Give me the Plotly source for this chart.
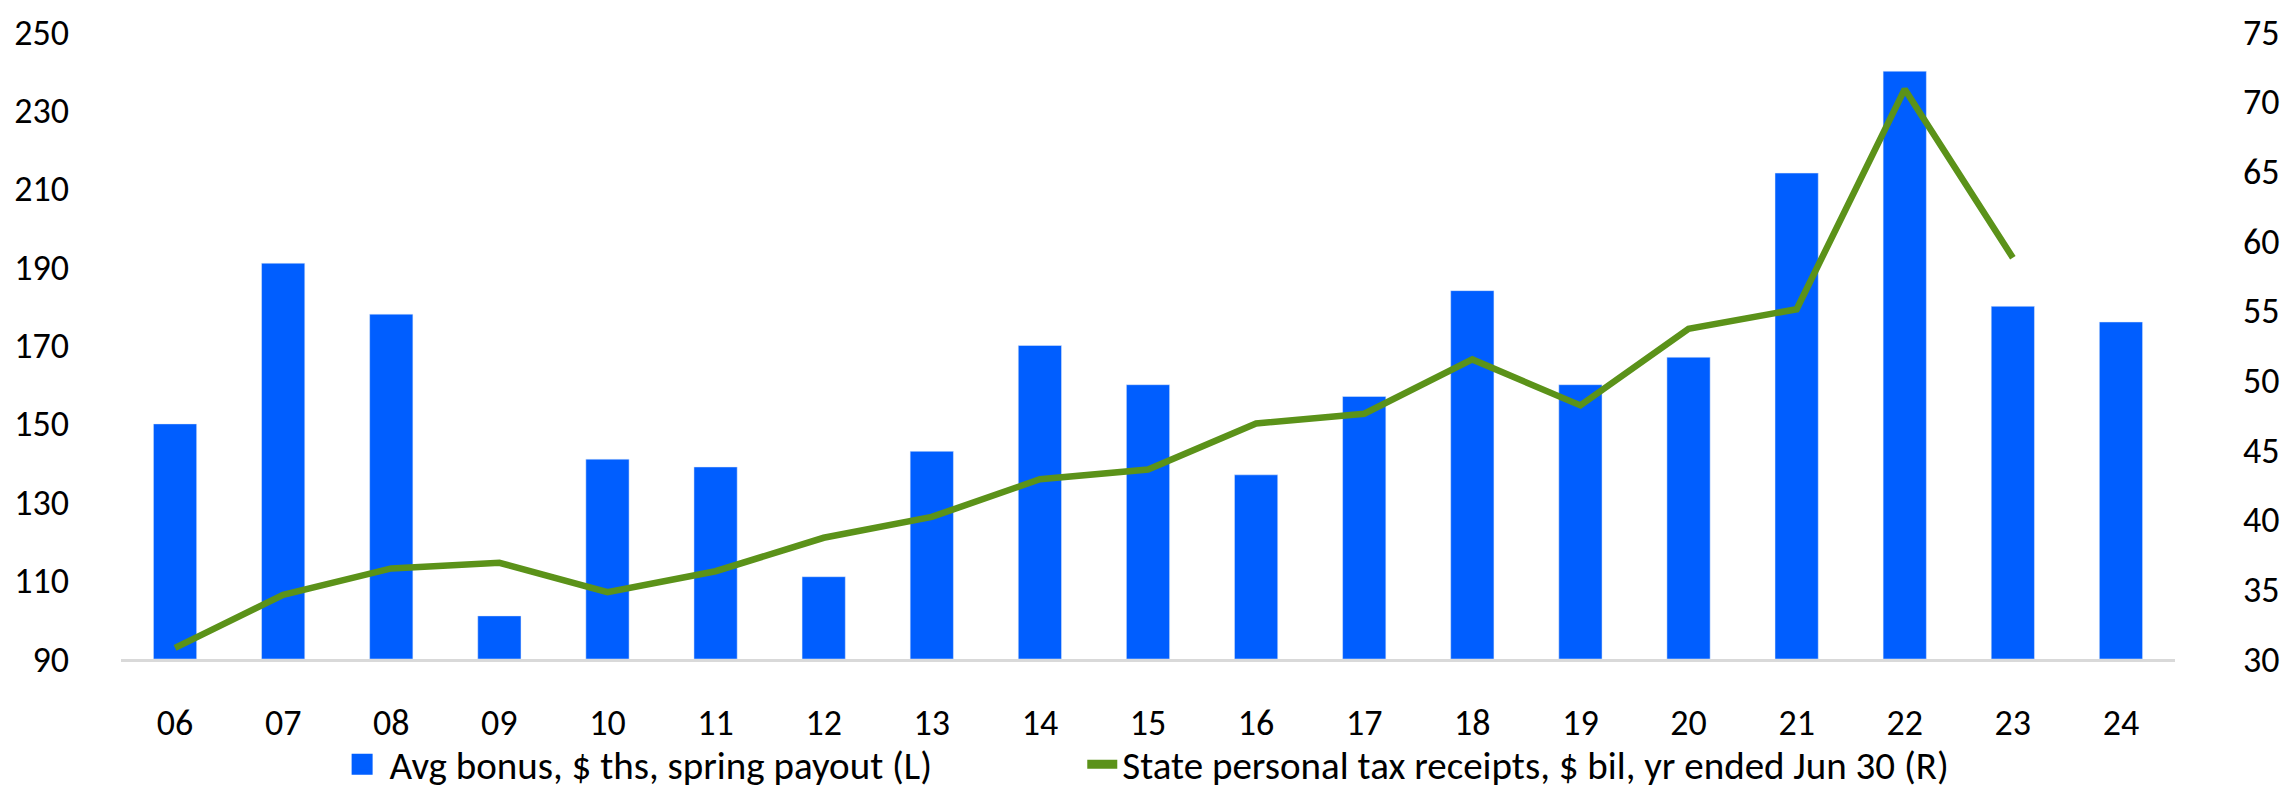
"""Avg bonus vs state personal tax receipts"""
import plotly.graph_objects as go

years = ['06', '07', '08', '09', '10', '11', '12', '13', '14', '15',
         '16', '17', '18', '19', '20', '21', '22', '23', '24']

# Avg bonus, $ ths (left axis)
avg_bonus = [150, 191, 178, 101, 141, 139, 111, 143, 170, 160,
             137, 157, 184, 160, 167, 214, 240, 180, 176]

# State personal tax receipts, $ bil (right axis); no value yet for 24
tax_receipts = [30.8, 34.6, 36.5, 36.9, 34.8, 36.3, 38.7, 40.2, 42.9, 43.6,
                46.9, 47.6, 51.5, 48.2, 53.7, 55.1, 70.9, 58.8, None]

left_ticks = [90, 110, 130, 150, 170, 190, 210, 230, 250]
right_ticks = [30, 35, 40, 45, 50, 55, 60, 65, 70, 75]

FONT = "Carlito, 'Liberation Sans Narrow', Lato, sans-serif"
BLUE = '#005EFF'
GREEN = '#5B9219'
BASE = 90

fig = go.Figure()

# bars are drawn up from the axis floor (90)
fig.add_trace(go.Bar(
    name="Avg bonus, $ ths, spring payout (L)",
    x=years,
    y=[v - BASE for v in avg_bonus],
    base=BASE,
    marker_color=BLUE,
    width=0.4,
    showlegend=False,
    yaxis='y'
))

fig.add_trace(go.Scatter(
    name="State personal tax receipts, $ bil, yr ended Jun 30 (R)",
    x=years,
    y=tax_receipts,
    mode='lines',
    line=dict(color=GREEN, width=6.5),
    showlegend=False,
    yaxis='y2'
))

# legend entries (bigger swatches than plotly's default bar icon)
fig.add_trace(go.Scatter(
    name="Avg bonus, $ ths, spring payout (L)",
    x=[None], y=[None], mode='markers',
    marker=dict(symbol='square', size=30, color=BLUE,
                line=dict(color=BLUE, width=5)),
    legend='legend',
))
fig.add_trace(go.Scatter(
    name="State personal tax receipts, $ bil, yr ended Jun 30 (R)",
    x=[None], y=[None], mode='lines',
    line=dict(color=GREEN, width=9),
    yaxis='y2',
    legend='legend2',
))

legend_common = dict(
    orientation='h',
    y=-0.168, yanchor='middle',
    font=dict(size=39),
    itemsizing='trace',
    bgcolor='rgba(0,0,0,0)',
)

fig.update_layout(
    width=2292,
    height=791,
    plot_bgcolor='white',
    paper_bgcolor='white',
    font=dict(family=FONT, size=36, color='black'),
    margin=dict(l=113, r=125, t=24, b=140, autoexpand=False),
    showlegend=True,
    legend=dict(x=0.104, xanchor='left', itemwidth=45, **legend_common),
    legend2=dict(x=0.468, xanchor='left', itemwidth=30, **legend_common),
    xaxis=dict(
        type='category',
        showgrid=False,
        showline=True,
        linecolor='#D9D9D9',
        linewidth=3,
        ticks='',
        ticklabelstandoff=30,
    ),
    yaxis=dict(
        range=[90, 250],
        tickvals=left_ticks,
        showgrid=False,
        zeroline=False,
        showline=False,
        ticks='',
        ticklabelstandoff=51,
        ticklabeloverflow='allow',
    ),
    yaxis2=dict(
        range=[30, 75],
        tickvals=right_ticks,
        overlaying='y',
        side='right',
        showgrid=False,
        zeroline=False,
        showline=False,
        ticks='',
        ticklabelstandoff=67,
        ticklabeloverflow='allow',
    ),
)

fig.write_html("out.html")
